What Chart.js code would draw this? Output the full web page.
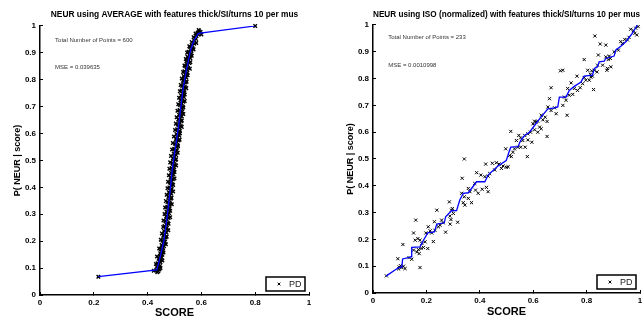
<!DOCTYPE html>
<html>
<head>
<meta charset="utf-8">
<script src="https://cdn.jsdelivr.net/npm/chart.js@4.4.1/dist/chart.umd.min.js"></script>
<style>
    html, body { margin: 0; padding: 0; background: #fff; overflow: hidden; }
    .panel { position: absolute; top: 0; width: 321px; height: 320px; overflow: hidden; }
    #leftPanel { left: 0; }
    #rightPanel { left: 321px; }
    canvas { display: block; }
</style>
</head>
<body>
<div class="panel" id="leftPanel"><canvas id="avgChart" width="321" height="320"></canvas></div>
<div class="panel" id="rightPanel"><canvas id="isoChart" width="331" height="320"></canvas></div>
<script>
const scoreTicks = [0, 0.2, 0.4, 0.6, 0.8, 1];
const probTicks = [0, 0.1, 0.2, 0.3, 0.4, 0.5, 0.6, 0.7, 0.8, 0.9, 1];

// left panel: AVERAGE
const avgScore = [
    0.436,0.440,0.432,0.444,0.438,0.442,0.434,0.446,0.440,0.437,
    0.448,0.443,0.450,0.441,0.452,0.446,0.455,0.447,0.452,0.458,
    0.449,0.456,0.461,0.452,0.458,0.465,0.455,0.462,0.467,0.458,
    0.464,0.470,0.461,0.468,0.472,0.463,0.470,0.475,0.466,0.472,
    0.478,0.469,0.475,0.480,0.470,0.477,0.482,0.473,0.479,0.484,
    0.474,0.481,0.486,0.477,0.483,0.488,0.479,0.485,0.490,0.481,
    0.487,0.492,0.483,0.489,0.494,0.485,0.491,0.496,0.487,0.493,
    0.499,0.489,0.495,0.501,0.492,0.498,0.504,0.494,0.500,0.506,
    0.497,0.503,0.509,0.499,0.506,0.512,0.502,0.509,0.515,0.505,
    0.511,0.518,0.507,0.514,0.520,0.510,0.517,0.523,0.512,0.519,
    0.525,0.514,0.521,0.527,0.517,0.523,0.529,0.519,0.526,0.531,
    0.520,0.527,0.533,0.522,0.529,0.535,0.524,0.531,0.537,0.526,
    0.533,0.539,0.528,0.535,0.541,0.531,0.538,0.544,0.534,0.541,
    0.548,0.537,0.545,0.551,0.540,0.548,0.555,0.544,0.552,0.559,
    0.548,0.556,0.563,0.552,0.561,0.567,0.558,0.566,0.573,0.564,
    0.574,0.580,0.571,0.582,0.589,0.578,0.586,0.592,0.590,0.597,
    0.600,0.217,0.800,
    0.423,0.448,0.431,0.455,0.435,0.459,0.443,0.468,0.449,0.471,
    0.453,0.477,0.458,0.478,0.459,0.484,0.463,0.484,0.465,0.490,
    0.468,0.489,0.471,0.495,0.474,0.495,0.476,0.500,0.479,0.500,
    0.481,0.506,0.484,0.506,0.487,0.512,0.491,0.513,0.494,0.519,
    0.498,0.520,0.502,0.527,0.505,0.527,0.508,0.533,0.511,0.533,
    0.514,0.538,0.517,0.538,0.520,0.544,0.523,0.545,0.527,0.549,
    0.532,0.557,0.537,0.559,0.542,0.564,0.547,0.571,0.555,0.581
];
const avgProb = [
    0.085,0.088,0.092,0.095,0.098,0.102,0.105,0.108,0.112,0.118,
    0.122,0.126,0.131,0.135,0.140,0.146,0.150,0.155,0.160,0.165,
    0.170,0.176,0.181,0.186,0.192,0.198,0.203,0.208,0.214,0.220,
    0.226,0.232,0.238,0.244,0.250,0.256,0.262,0.268,0.274,0.280,
    0.286,0.292,0.298,0.304,0.310,0.316,0.322,0.328,0.334,0.340,
    0.346,0.352,0.358,0.364,0.370,0.376,0.382,0.388,0.394,0.400,
    0.406,0.412,0.418,0.424,0.430,0.436,0.442,0.448,0.454,0.460,
    0.466,0.472,0.478,0.484,0.490,0.496,0.502,0.508,0.514,0.520,
    0.526,0.532,0.538,0.544,0.550,0.556,0.562,0.568,0.574,0.580,
    0.586,0.592,0.598,0.604,0.610,0.616,0.622,0.628,0.634,0.640,
    0.646,0.652,0.658,0.664,0.670,0.676,0.682,0.688,0.694,0.700,
    0.706,0.712,0.718,0.724,0.730,0.736,0.742,0.748,0.754,0.760,
    0.766,0.772,0.778,0.784,0.790,0.796,0.802,0.808,0.814,0.820,
    0.826,0.832,0.838,0.844,0.850,0.856,0.862,0.868,0.874,0.880,
    0.886,0.892,0.898,0.904,0.910,0.916,0.922,0.928,0.934,0.940,
    0.946,0.952,0.958,0.963,0.968,0.972,0.976,0.980,0.985,0.978,
    0.968,0.068,1.000,
    0.090,0.100,0.115,0.128,0.143,0.158,0.173,0.189,0.205,0.217,
    0.229,0.241,0.253,0.265,0.277,0.289,0.301,0.313,0.325,0.337,
    0.349,0.361,0.373,0.385,0.397,0.409,0.421,0.433,0.445,0.457,
    0.469,0.481,0.493,0.505,0.517,0.529,0.541,0.553,0.565,0.577,
    0.589,0.601,0.613,0.625,0.637,0.649,0.661,0.673,0.685,0.697,
    0.709,0.721,0.733,0.745,0.757,0.769,0.781,0.793,0.805,0.817,
    0.829,0.841,0.853,0.865,0.877,0.889,0.901,0.913,0.925,0.937
];
const avgFitScore = [0.217,0.434,0.440,0.450,0.461,0.470,0.477,0.484,0.490,0.499,0.508,0.518,0.526,0.533,0.545,0.560,0.572,0.589,0.800];
const avgFitProb  = [0.068,0.093,0.115,0.155,0.204,0.270,0.328,0.390,0.452,0.520,0.576,0.651,0.720,0.774,0.840,0.911,0.945,0.973,1.000];

// right panel: ISO (normalized)
const isoScore = [
    0.050,0.093,0.098,0.103,0.108,0.114,0.120,0.096,0.112,0.145,
    0.152,0.160,0.152,0.158,0.164,0.170,0.173,0.176,0.180,0.168,
    0.176,0.183,0.189,0.205,0.198,0.207,0.214,0.220,0.226,0.239,
    0.232,0.245,0.251,0.257,0.263,0.272,0.286,0.288,0.292,0.294,
    0.297,0.301,0.289,0.317,0.334,0.332,0.338,0.344,0.342,0.357,
    0.363,0.369,0.388,0.394,0.384,0.404,0.409,0.419,0.425,0.431,
    0.422,0.431,0.437,0.447,0.456,0.462,0.472,0.481,0.487,0.499,
    0.506,0.381,0.357,0.230,0.195,0.135,
    0.342,0.497,0.512,0.518,0.578,0.516,0.537,0.530,0.543,0.553,
    0.561,0.546,0.568,0.580,0.590,0.580,0.605,0.611,0.617,0.624,
    0.605,0.630,0.636,0.652,0.655,0.661,0.667,0.680,0.686,0.711,
    0.727,0.667,0.702,0.711,0.717,0.723,0.735,0.729,0.742,0.748,
    0.754,0.764,0.766,0.776,0.785,0.791,0.791,0.804,0.810,0.814,
    0.819,0.822,0.826,0.831,0.829,0.839,0.844,0.841,0.851,0.860,
    0.872,0.876,0.872,0.881,0.885,0.889,0.903,0.919,0.928,0.934,
    0.943,0.953,0.959,0.965,0.975,0.981,0.988,0.993,0.984,0.652,
    0.645,0.599,0.553,0.570,0.595,0.524,0.891,0.878,0.816,0.797,
    0.617,0.630
];
const isoProb = [
    0.064,0.128,0.097,0.102,0.095,0.100,0.091,0.090,0.181,0.126,
    0.160,0.272,0.224,0.197,0.153,0.162,0.147,0.095,0.166,0.203,
    0.197,0.185,0.170,0.166,0.224,0.247,0.232,0.224,0.192,0.309,
    0.234,0.247,0.253,0.272,0.262,0.227,0.340,0.287,0.274,0.309,
    0.315,0.297,0.257,0.264,0.428,0.372,0.337,0.328,0.359,0.353,
    0.378,0.337,0.449,0.372,0.384,0.440,0.387,0.434,0.394,0.378,
    0.481,0.436,0.446,0.484,0.459,0.486,0.481,0.465,0.474,0.469,
    0.471,0.409,0.390,0.266,0.191,0.132,
    0.500,0.538,0.513,0.509,0.509,0.603,0.569,0.538,0.544,0.579,
    0.569,0.588,0.588,0.594,0.600,0.571,0.641,0.638,0.641,0.619,
    0.609,0.663,0.646,0.584,0.694,0.725,0.681,0.691,0.669,0.700,
    0.663,0.766,0.829,0.831,0.731,0.719,0.738,0.763,0.784,0.741,
    0.763,0.809,0.756,0.766,0.781,0.871,0.804,0.831,0.794,0.816,
    0.829,0.809,0.759,0.959,0.831,0.825,0.888,0.850,0.929,0.850,
    0.925,0.831,0.881,0.871,0.884,0.875,0.900,0.906,0.938,0.931,
    0.946,0.944,0.954,0.984,0.979,0.969,0.963,0.994,0.988,0.640,
    0.656,0.631,0.544,0.544,0.5625,0.525,0.844,0.838,0.806,0.794,
    0.600,0.613
];
const isoFitScore = [0.050,0.096,0.108,0.111,0.143,0.145,0.176,0.189,0.205,0.230,0.239,0.267,0.272,0.294,0.313,0.325,0.338,0.357,0.388,0.419,0.431,0.468,0.499,0.509,0.516,0.543,0.553,0.568,0.586,0.605,0.624,0.640,0.655,0.680,0.692,0.698,0.723,0.735,0.754,0.779,0.791,0.822,0.829,0.841,0.847,0.866,0.872,0.903,0.909,0.928,0.947,0.971,0.990];
const isoFitProb  = [0.064,0.095,0.097,0.127,0.135,0.170,0.172,0.197,0.224,0.228,0.257,0.262,0.284,0.307,0.307,0.347,0.372,0.374,0.415,0.415,0.440,0.474,0.494,0.525,0.544,0.546,0.569,0.5875,0.600,0.625,0.650,0.669,0.6875,0.691,0.694,0.731,0.731,0.756,0.771,0.7875,0.809,0.8125,0.8375,0.844,0.8625,0.865,0.875,0.884,0.906,0.921,0.9375,0.969,1.0];

const FONT = '"Liberation Sans", Arial, Helvetica, sans-serif';
Chart.defaults.font.family = FONT;
Chart.defaults.animation = false;

const toPoints = (xs, ys) => xs.map((x, i) => ({ x, y: ys[i] }));

// small boxed legend in the lower right corner of the plot area
const boxLegend = {
    id: 'boxLegend',
    afterDraw(chart, args, opts) {
        const { ctx, chartArea } = chart;
        const w = opts.width, h = opts.height;
        const x = chartArea.right - opts.right - w;
        const y = chartArea.bottom - opts.bottom - h;
        ctx.save();
        ctx.fillStyle = '#fff';
        ctx.fillRect(x, y, w, h);
        ctx.strokeStyle = '#000';
        ctx.lineWidth = 1.5;
        ctx.strokeRect(x, y, w, h);
        const mx = x + 13, my = y + h / 2, r = 1.4;
        ctx.lineWidth = 1;
        ctx.beginPath();
        ctx.moveTo(mx - r, my - r); ctx.lineTo(mx + r, my + r);
        ctx.moveTo(mx - r, my + r); ctx.lineTo(mx + r, my - r);
        ctx.stroke();
        ctx.fillStyle = '#222';
        ctx.font = '9px ' + FONT;
        ctx.textBaseline = 'middle';
        ctx.fillText(opts.text, x + 23, my + 0.5);
        ctx.restore();
    }
};

// the two text notes in the upper left of each plot
const notes = {
    id: 'notes',
    afterDraw(chart, args, opts) {
        const { ctx, scales } = chart;
        ctx.save();
        ctx.fillStyle = '#333';
        ctx.font = '6px ' + FONT;
        ctx.textBaseline = 'middle';
        opts.items.forEach(n => {
            ctx.fillText(n.text, scales.x.getPixelForValue(n.at[0]), scales.y.getPixelForValue(n.at[1]));
        });
        ctx.restore();
    }
};

function makeChart(canvasId, cfg) {
    const tickFont = { size: 8, weight: 'bold' };
    new Chart(document.getElementById(canvasId), {
        type: 'scatter',
        data: {
            datasets: [
                {
                    type: 'line',
                    data: toPoints(cfg.fitX, cfg.fitY),
                    borderColor: '#0000ff',
                    borderWidth: 1.3,
                    pointRadius: 0,
                    fill: false,
                    tension: 0,
                    order: 0
                },
                {
                    data: toPoints(cfg.xs, cfg.ys),
                    pointStyle: 'crossRot',
                    pointRadius: cfg.markRadius,
                    borderColor: '#000',
                    backgroundColor: '#000',
                    borderWidth: cfg.markWidth,
                    clip: 4,
                    order: 1
                }
            ]
        },
        options: {
            responsive: false,
            devicePixelRatio: 1,
            events: [],
            layout: { padding: { left: 0, right: 12, top: 0, bottom: 0 } },
            plugins: {
                legend: { display: false },
                tooltip: { enabled: false },
                title: {
                    display: true,
                    text: cfg.title,
                    fullSize: false,
                    color: '#000',
                    font: { size: 8.4, weight: 'bold', lineHeight: 1.2 },
                    padding: { top: cfg.titleTop, bottom: cfg.titleBottom }
                },
                boxLegend: { text: 'PD', width: 39, height: 14, right: 4, bottom: 4 },
                notes: { items: cfg.notes }
            },
            scales: {
                x: {
                    type: 'linear', min: 0, max: 1,
                    afterBuildTicks: s => { s.ticks = scoreTicks.map(v => ({ value: v })); },
                    afterFit: s => { s.height = cfg.xHeight; s.paddingLeft = 0; s.paddingRight = 0; },
                    ticks: { color: '#000', font: tickFont, padding: 6, maxRotation: 0, autoSkip: false, callback: v => String(v) },
                    grid: { drawOnChartArea: false, tickLength: -3, color: '#000', lineWidth: 1 },
                    border: { color: '#000', width: 1.5 },
                    title: {
                        display: true, text: 'SCORE', color: '#000',
                        font: { size: 11, weight: 'bold', lineHeight: 1 },
                        padding: { top: 0, bottom: cfg.xTitlePad }
                    }
                },
                y: {
                    type: 'linear', min: 0, max: 1,
                    afterBuildTicks: s => { s.ticks = probTicks.map(v => ({ value: v })); },
                    afterFit: s => { s.width = cfg.yWidth; s.paddingTop = 0; s.paddingBottom = 0; },
                    ticks: { color: '#000', font: tickFont, padding: 7, autoSkip: false, callback: v => String(v) },
                    grid: { drawOnChartArea: false, tickLength: -3, color: '#000', lineWidth: 1 },
                    border: { color: '#000', width: 1.5 },
                    title: {
                        display: true, text: 'P( NEUR | score)', color: '#000',
                        font: { size: 9, weight: 'bold', lineHeight: 1.2 },
                        padding: { top: cfg.yTitlePad, bottom: 0 }
                    }
                }
            }
        },
        plugins: [boxLegend, notes]
    });
}

document.addEventListener('DOMContentLoaded', () => {
    makeChart('avgChart', {
        title: 'NEUR using AVERAGE with features thick/SI/turns 10 per mus',
        xs: avgScore, ys: avgProb, fitX: avgFitScore, fitY: avgFitProb,
        markRadius: 2.5, markWidth: 1.4,
        titleTop: 10, titleBottom: 5.9,
        xHeight: 25, xTitlePad: 2,
        yWidth: 40, yTitlePad: 12,
        notes: [
            { text: 'Total Number of Points = 600', at: [0.056, 0.948] },
            { text: 'MSE = 0.039635', at: [0.056, 0.848] }
        ]
    });
    makeChart('isoChart', {
        title: 'NEUR using ISO (normalized) with features thick/SI/turns 10 per mus',
        xs: isoScore, ys: isoProb, fitX: isoFitScore, fitY: isoFitProb,
        markRadius: 2.2, markWidth: 1,
        titleTop: 10, titleBottom: 4.9,
        xHeight: 27, xTitlePad: 3,
        yWidth: 52, yTitlePad: 24,
        notes: [
            { text: 'Total Number of Points = 233', at: [0.057, 0.953] },
            { text: 'MSE = 0.0010998', at: [0.057, 0.851] }
        ]
    });
});
</script>
</body>
</html>
